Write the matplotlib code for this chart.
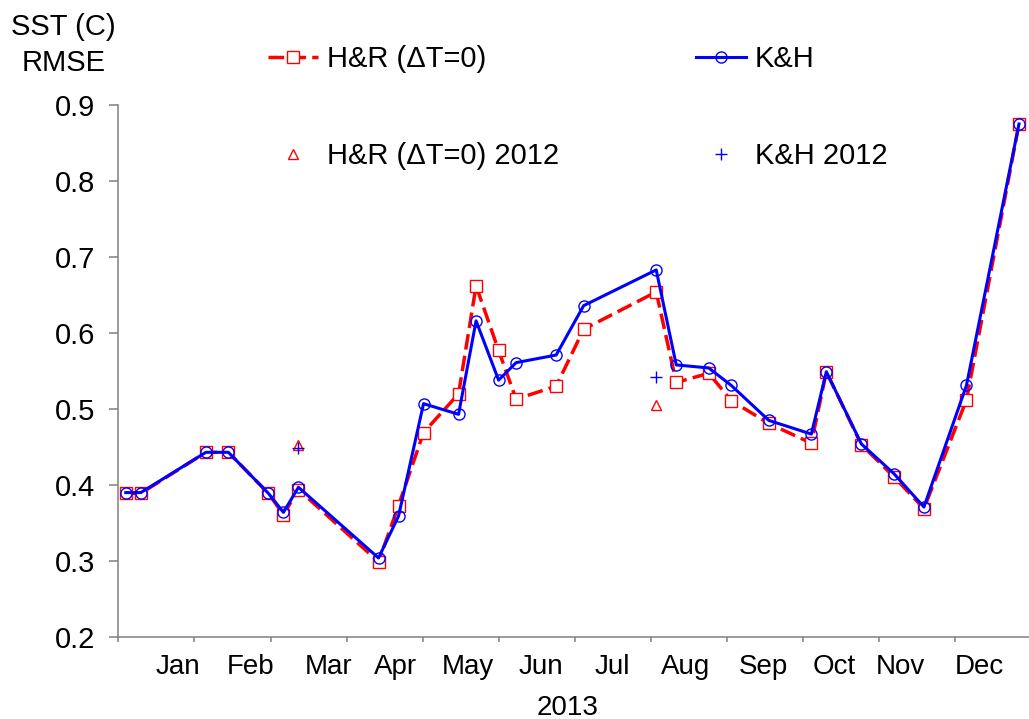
import matplotlib
matplotlib.use("Agg")
import matplotlib.pyplot as plt
import matplotlib.transforms as mtransforms
import numpy as np

plt.rcParams['font.family'] = ['Liberation Sans', 'DejaVu Sans']

# day of year 2013 for each comparison
days = [3, 9, 35, 44, 60, 66, 72, 104, 112, 122, 136, 143, 152, 159, 175,
        186, 215, 223, 236, 245, 260, 277, 283, 297, 310, 322, 339, 360]

hr_rmse = [0.389, 0.389, 0.443, 0.443, 0.389, 0.361, 0.394, 0.299, 0.373,
           0.469, 0.520, 0.662, 0.577, 0.513, 0.530, 0.605, 0.654, 0.535,
           0.547, 0.511, 0.481, 0.455, 0.549, 0.453, 0.411, 0.369, 0.512,
           0.875]
kh_rmse = [0.390, 0.390, 0.443, 0.443, 0.389, 0.364, 0.397, 0.304, 0.359,
           0.507, 0.493, 0.616, 0.538, 0.561, 0.571, 0.636, 0.683, 0.558,
           0.554, 0.531, 0.485, 0.467, 0.549, 0.454, 0.415, 0.371, 0.531,
           0.875]

# 2012 values on the same days
days_2012 = [72, 215]
hr_2012 = [0.452, 0.505]
kh_2012 = [0.449, 0.542]

months = ['Jan', 'Feb', 'Mar', 'Apr', 'May', 'Jun', 'Jul', 'Aug', 'Sep',
          'Oct', 'Nov', 'Dec']
month_label_x = [23.7, 52.9, 84.0, 110.6, 139.6, 168.9, 197.3, 226.9,
                 257.7, 286.1, 312.5, 344.0]

W, H = 1029, 719
fig = plt.figure(figsize=(W / 100, H / 100), dpi=100)
ax = fig.add_axes([118.3 / W, 1 - 637 / H, (W - 118.3) / W, 532 / H])

red = '#ff0000'
blue = '#0000ff'
axis_grey = '#808080'

l_hr, = ax.plot(days, hr_rmse, color=red, lw=2.5, dashes=(4.5, 1.8),
                marker='s', ms=8, mfc='white', mec=red, mew=1.0,
                clip_on=False, zorder=3, label='H&R (ΔT=0)')
l_kh, = ax.plot(days, kh_rmse, color=blue, lw=2.2,
                marker='o', ms=8, mfc='none', mec=blue, mew=1.0,
                clip_on=False, zorder=4, label='K&H')
l_hr12, = ax.plot(days_2012, hr_2012, ls='none', marker='^', ms=7.5,
                  mfc='none', mec=red, mew=1.0, zorder=5,
                  label='H&R (ΔT=0) 2012')
l_kh12, = ax.plot(days_2012, kh_2012, ls='none', marker='+', ms=9,
                  mec=blue, mew=1.0, zorder=5, label='K&H 2012')

ax.set_xlim(0, 364)
ax.set_ylim(0.2, 0.9)
ax.set_yticks(np.arange(0.2, 0.91, 0.1))
ax.set_yticklabels([f'{v:.1f}' for v in np.arange(0.2, 0.91, 0.1)])
ax.set_xticks(np.arange(12) * 365 / 12)
ax.set_xticklabels([])

for side in ['top', 'right']:
    ax.spines[side].set_visible(False)
for side in ['left', 'bottom']:
    ax.spines[side].set_color(axis_grey)
    ax.spines[side].set_linewidth(1.1)
ax.tick_params(axis='y', length=6.5, width=1.1, color=axis_grey, pad=10,
               labelsize=21)
ax.tick_params(axis='x', length=3.6, width=1.1, color=axis_grey)

# month names sit between the month ticks
trans = mtransforms.blended_transform_factory(ax.transData, ax.transAxes)
for x, m in zip(month_label_x, months):
    ax.text(x, -(674.5 - 637) / 532, m, transform=trans, ha='center',
            va='baseline', fontsize=20)

fig.text(568 / W, 1 - 715 / H, '2013', ha='center', va='baseline',
         fontsize=20)
fig.text(63.5 / W, 1 - 35 / H, 'SST (C)', ha='center', va='baseline',
         fontsize=21)
fig.text(63.5 / W, 1 - 71 / H, 'RMSE', ha='center', va='baseline',
         fontsize=21)

fig.legend(handles=[l_hr, l_hr12, l_kh, l_kh12], ncol=2,
           loc='upper left', bbox_to_anchor=(268 / W, 1 - 45 / H),
           frameon=False, fontsize=21, borderpad=0, borderaxespad=0,
           handlelength=1.71, handletextpad=0.31, labelspacing=2.36,
           columnspacing=4.7, numpoints=1)

fig.savefig('out.png', dpi=100)
